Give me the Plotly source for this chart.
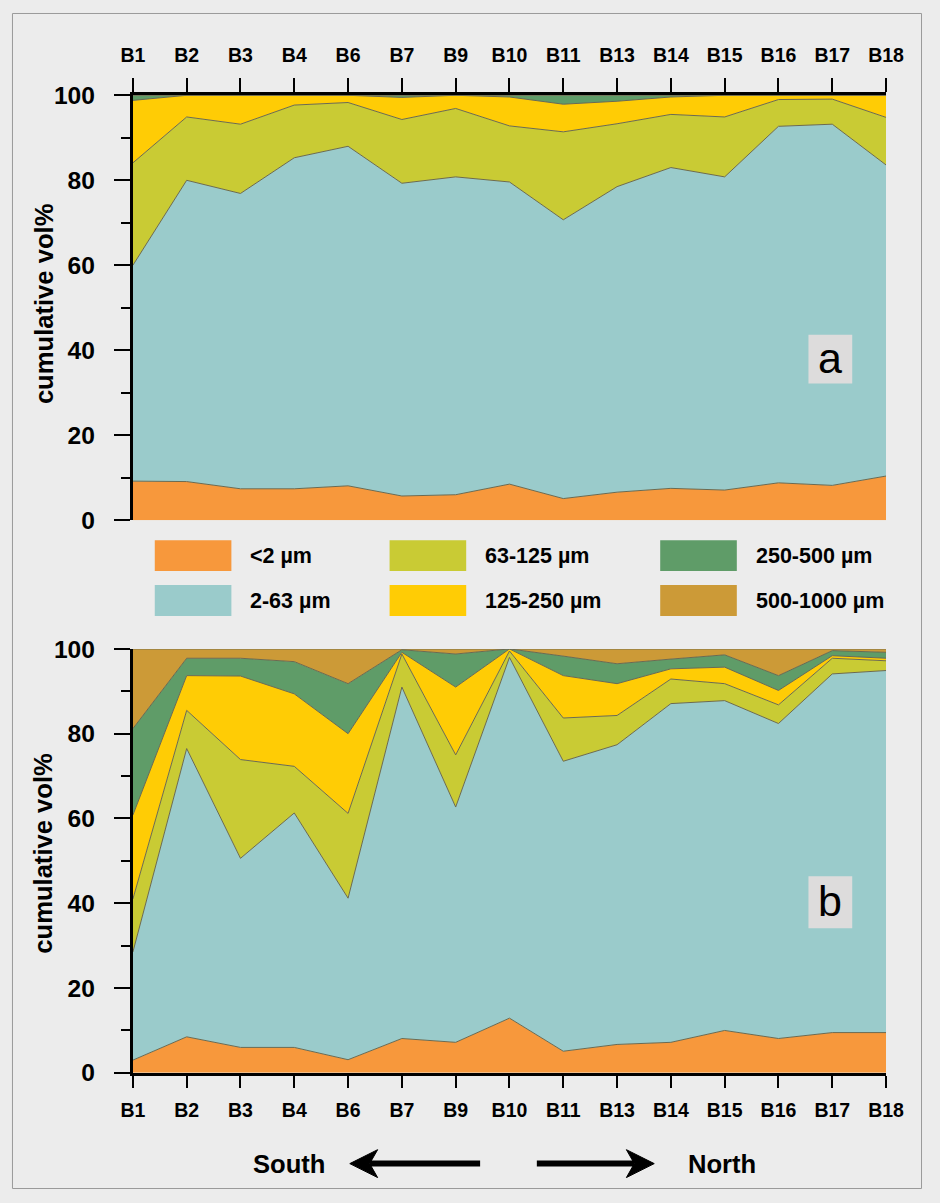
import plotly.graph_objects as go

# ---------------- data ----------------
stations = ["B1", "B2", "B3", "B4", "B6", "B7", "B9", "B10", "B11", "B13", "B14", "B15", "B16", "B17", "B18"]
classes = ["<2 µm", "2-63 µm", "63-125 µm", "125-250 µm", "250-500 µm", "500-1000 µm"]

# panel a : cumulative vol% (upper boundary of each class)
a_lt2 = [9.2, 9.1, 7.4, 7.4, 8.1, 5.7, 6.0, 8.5, 5.1, 6.6, 7.5, 7.1, 8.8, 8.2, 10.4]
a_lt63 = [60.0, 80.0, 76.9, 85.3, 88.0, 79.3, 80.8, 79.6, 70.7, 78.5, 83.0, 80.8, 92.7, 93.2, 83.6]
a_lt125 = [84.1, 94.9, 93.2, 97.7, 98.3, 94.3, 96.9, 92.8, 91.4, 93.3, 95.5, 94.9, 99.0, 99.1, 94.8]
a_lt250 = [98.8, 100, 100, 100, 100, 99.5, 100, 99.6, 97.9, 98.6, 99.6, 100, 100, 100, 100]
a_lt500 = [100, 100, 100, 100, 100, 100, 100, 100, 100, 100, 100, 100, 100, 100, 100]
a_lt1000 = [100, 100, 100, 100, 100, 100, 100, 100, 100, 100, 100, 100, 100, 100, 100]

# panel b
b_lt2 = [3.0, 8.5, 6.0, 6.0, 3.1, 8.1, 7.2, 12.9, 5.1, 6.7, 7.2, 10.0, 8.1, 9.5, 9.5]
b_lt63 = [28.5, 76.5, 50.6, 61.3, 41.2, 91.0, 62.7, 98.0, 73.5, 77.4, 87.1, 87.8, 82.4, 94.1, 94.9]
b_lt125 = [41.0, 85.5, 73.9, 72.3, 61.2, 98.8, 75.0, 99.5, 83.7, 84.3, 92.9, 91.8, 86.8, 97.8, 97.2]
b_lt250 = [60.8, 93.7, 93.6, 89.4, 80.0, 99.2, 91.0, 100, 93.7, 91.8, 95.3, 95.7, 90.2, 98.4, 97.8]
b_lt500 = [81.2, 97.8, 97.8, 97.0, 91.8, 99.8, 98.8, 100, 98.3, 96.5, 97.6, 98.6, 93.7, 99.6, 99.2]
b_lt1000 = [100, 100, 100, 100, 100, 100, 100, 100, 100, 100, 100, 100, 100, 100, 100]

colors = ["#F7983C", "#9ACBCB", "#C9CB34", "#FFCC05", "#5F9C68", "#CC9A37"]
edge = "#6b6a50"

# ---------------- layout helpers ----------------
W, H = 940, 1203
# the photographed page shows the figure slightly inset/scaled; positions below are
# given in target-picture pixels and mapped to figure pixels
OX, SX, OY, SY = 11.5, 0.973, 12.5, 0.98
K = 1 / 0.976  # size compensation


def px(x):
    return ((x - OX) / SX) / W


def py(y):
    return 1 - ((y - OY) / SY) / H


def sz(v):
    return round(v * K, 1)


def isz(v):
    return int(round(v * K))


FONT = "Liberation Sans, Arial, Helvetica, sans-serif"
xs = list(range(len(stations)))

fig = go.Figure()

panels = [
    ("x", "y", [a_lt2, a_lt63, a_lt125, a_lt250, a_lt500, a_lt1000]),
    ("x2", "y2", [b_lt2, b_lt63, b_lt125, b_lt250, b_lt500, b_lt1000]),
]
for xa, ya_, series in panels:
    for i, (name, vals) in enumerate(zip(classes, series)):
        fig.add_trace(go.Scatter(
            x=xs, y=vals, name=name, xaxis=xa, yaxis=ya_,
            mode="lines", line=dict(color=edge, width=1),
            fill="tozeroy" if i == 0 else "tonexty",
            fillcolor=colors[i], showlegend=False, hoverinfo="skip",
        ))

xdom = [px(133), px(890)]
common_x = dict(
    domain=xdom, range=[0, len(stations) - 1], tickvals=xs, ticktext=stations,
    showgrid=False, zeroline=False, showline=True, linecolor="black", linewidth=3,
    ticks="outside", ticklen=isz(14), tickwidth=2, tickcolor="black",
    tickfont=dict(family=FONT, size=sz(19), color="black", weight="bold"),
)
common_y = dict(
    range=[0, 100], tickvals=[0, 20, 40, 60, 80, 100],
    showgrid=False, zeroline=False, showline=True, linecolor="black", linewidth=3,
    ticks="outside", ticklen=isz(16), tickwidth=2, tickcolor="black",
    minor=dict(tickvals=[10, 30, 50, 70, 90], ticks="outside", ticklen=isz(9), tickwidth=2, tickcolor="black"),
    tickfont=dict(family=FONT, size=sz(24), color="black", weight="bold"),
    ticklabelstandoff=isz(14),
)

fig.update_layout(
    width=W, height=H, margin=dict(l=0, r=0, t=0, b=0),
    paper_bgcolor="#ececec", plot_bgcolor="rgba(0,0,0,0)",
    xaxis=dict(common_x, anchor="y", side="top", ticklabelstandoff=isz(8)),
    yaxis=dict(common_y, domain=[py(521), py(95)], anchor="x"),
    xaxis2=dict(common_x, anchor="y2", side="bottom", ticklen=isz(12), ticklabelstandoff=isz(6)),
    yaxis2=dict(common_y, domain=[py(1075), py(650)], anchor="x2"),
)

shapes = []
annotations = []

# figure border
shapes.append(dict(type="rect", xref="paper", yref="paper", x0=0.5 / W, x1=1 - 0.5 / W, y0=0.5 / H, y1=1 - 0.5 / H,
                   fillcolor="rgba(0,0,0,0)", line=dict(color="#9a9a9a", width=1), layer="below"))

# y-axis titles
for yc in (304, 855):
    annotations.append(dict(xref="paper", yref="paper", x=px(43), y=py(yc), text="cumulative vol%",
                            textangle=-90, showarrow=False, xanchor="center", yanchor="middle",
                            font=dict(family=FONT, size=sz(25), color="black", weight="bold")))

# panel letters
for letter, (y0, y1) in (("a", (335, 384)), ("b", (878, 930))):
    shapes.append(dict(type="rect", xref="paper", yref="paper", x0=px(812), x1=px(856), y0=py(y1), y1=py(y0),
                       fillcolor="#dddcdc", line=dict(width=0), layer="above"))
    annotations.append(dict(xref="paper", yref="paper", x=px(834), y=py((y0 + y1) / 2 - 1), text=letter,
                            showarrow=False, xanchor="center", yanchor="middle",
                            font=dict(family=FONT, size=sz(42), color="black")))

# legend (3 columns x 2 rows)
legend_cols = [(155, 232), (391, 468), (663, 740)]
legend_rows = [(541, 572), (586, 617)]
order = [(0, 0), (0, 1), (1, 0), (1, 1), (2, 0), (2, 1)]  # (col,row) per class
for k, (c, r) in enumerate(order):
    x0, x1 = legend_cols[c]
    y0, y1 = legend_rows[r]
    shapes.append(dict(type="rect", xref="paper", yref="paper", x0=px(x0), x1=px(x1), y0=py(y1), y1=py(y0),
                       fillcolor=colors[k], line=dict(width=0)))
    annotations.append(dict(xref="paper", yref="paper", x=px(x1 + 17), y=py((y0 + y1) / 2), text=classes[k],
                            xanchor="left", yanchor="middle", showarrow=False,
                            font=dict(family=FONT, size=sz(21), color="black", weight="bold")))

# South / North arrows
ya = 1166
annotations.append(dict(xref="paper", yref="paper", x=px(290), y=py(ya), text="South", showarrow=False,
                        xanchor="center", yanchor="middle",
                        font=dict(family=FONT, size=sz(25), color="black", weight="bold")))
annotations.append(dict(xref="paper", yref="paper", x=px(725), y=py(ya), text="North", showarrow=False,
                        xanchor="center", yanchor="middle",
                        font=dict(family=FONT, size=sz(25), color="black", weight="bold")))


def arrow(tail, tip):
    d = 1 if tip > tail else -1
    base = tip - d * 28
    notch = tip - d * 20
    shapes.append(dict(type="line", xref="paper", yref="paper", x0=px(tail), x1=px(notch), y0=py(ya), y1=py(ya),
                       line=dict(color="black", width=6)))
    path = (f"M {px(tip)} {py(ya)} L {px(base)} {py(ya - 14)} L {px(notch)} {py(ya)} "
            f"L {px(base)} {py(ya + 14)} Z")
    shapes.append(dict(type="path", xref="paper", yref="paper", path=path,
                       fillcolor="black", line=dict(color="black", width=1)))


arrow(482, 351)
arrow(539, 657)

fig.update_layout(shapes=shapes, annotations=annotations)
fig.write_html(
    "out.html",
    config={"displayModeBar": False},
    post_script="document.body.style.margin='0';document.body.style.overflow='hidden';",
)
